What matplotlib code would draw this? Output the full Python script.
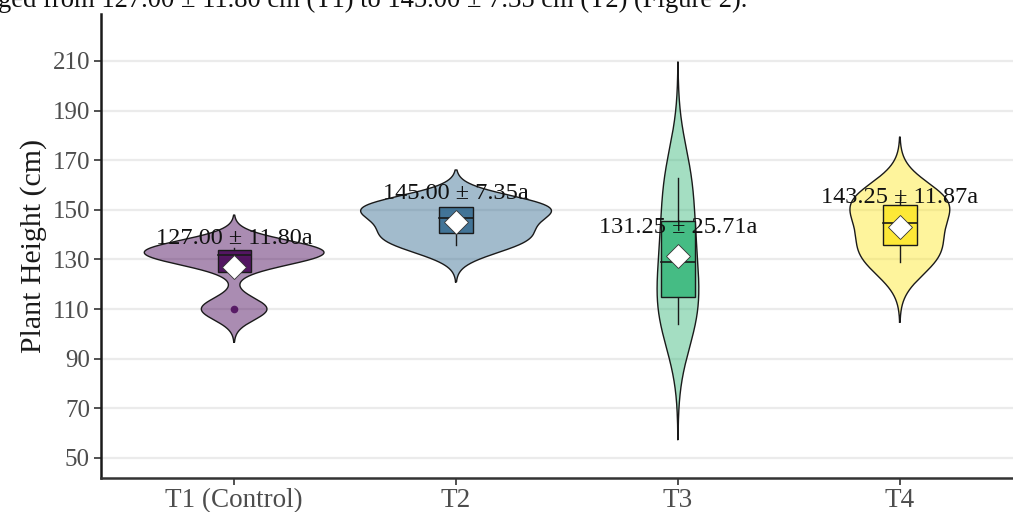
import numpy as np
import matplotlib
matplotlib.use("Agg")
import matplotlib.pyplot as plt

# Plant height (cm) per treatment, four replicates each
groups = ["T1 (Control)", "T2", "T3", "T4"]
t1_height = [110.0, 130.0, 133.5, 134.5]
t2_height = [136.0, 142.0, 151.0, 151.0]
t3_height = [104.0, 118.5, 139.5, 163.0]
t4_height = [129.0, 138.2, 150.8, 155.0]
heights = [t1_height, t2_height, t3_height, t4_height]

# Summary statistics printed above each treatment
means = [127.00, 145.00, 131.25, 143.25]
sds = [11.80, 7.35, 25.71, 11.87]
letters = ["a", "a", "a", "a"]

y_ticks = [50, 70, 90, 110, 130, 150, 170, 190, 210]

# styling
colors = ["#440154", "#31688E", "#35B779", "#FDE725"]
violin_half_width = [0.405, 0.43, 0.094, 0.225]

SERIF = ["Liberation Serif", "DejaVu Serif"]
plt.rcParams["font.family"] = SERIF


def bw_nrd0(x):
    x = np.asarray(x)
    sd = np.std(x, ddof=1)
    q1, q3 = np.percentile(x, [25, 75])
    lo = min(sd, (q3 - q1) / 1.34)
    if lo == 0:
        lo = sd
    return 0.9 * lo * len(x) ** -0.2


def kde(x, n=512):
    x = np.asarray(x)
    bw = bw_nrd0(x)
    grid = np.linspace(x.min() - 3 * bw, x.max() + 3 * bw, n)
    z = (grid[:, None] - x[None, :]) / bw
    dens = np.exp(-0.5 * z ** 2).sum(axis=1) / (len(x) * bw * np.sqrt(2 * np.pi))
    return grid, dens


fig = plt.figure(figsize=(10.13, 5.12), dpi=100)
ax = fig.add_axes([101 / 1013, 34 / 512, 932 / 1013, 464 / 512])

# grid
for t in y_ticks:
    ax.axhline(t, color="#ebebeb", lw=1.6, zorder=0)

# violins
for i, h in enumerate(heights):
    grid, dens = kde(h)
    pos = i + 1
    half = violin_half_width[i] * dens / dens.max()
    ax.fill_betweenx(grid, pos - half, pos + half, facecolor=colors[i], alpha=0.45,
                     edgecolor="none", zorder=2)
    ax.plot(np.r_[pos - half, (pos + half)[::-1], pos - half[0]],
            np.r_[grid, grid[::-1], grid[0]], color="#1a1a1a", lw=1.0, zorder=3)

# boxplots
box_w = 0.15
for i, h in enumerate(heights):
    pos = i + 1
    h = np.asarray(h)
    q1, med, q3 = np.percentile(h, [25, 50, 75])
    iqr = q3 - q1
    lo_f, hi_f = q1 - 1.5 * iqr, q3 + 1.5 * iqr
    inside = h[(h >= lo_f) & (h <= hi_f)]
    outliers = h[(h < lo_f) | (h > hi_f)]
    ax.plot([pos, pos], [q3, inside.max()], color="#1a1a1a", lw=1.0, zorder=4)
    ax.plot([pos, pos], [q1, inside.min()], color="#1a1a1a", lw=1.0, zorder=4)
    ax.add_patch(plt.Rectangle((pos - box_w / 2, q1), box_w, iqr, facecolor=colors[i],
                               alpha=0.85, edgecolor="none", zorder=4))
    ax.add_patch(plt.Rectangle((pos - box_w / 2, q1), box_w, iqr, facecolor="none",
                               edgecolor="#1a1a1a", lw=1.0, zorder=4))
    ax.plot([pos - box_w / 2, pos + box_w / 2], [med, med], color="#1a1a1a", lw=1.2, zorder=4)
    if len(outliers):
        ax.plot([pos] * len(outliers), outliers, "o", ms=5.5, color=colors[i],
                alpha=0.8, mec="none", zorder=5)

# means with their labels
for i, m in enumerate(means):
    ax.plot(i + 1, m, "D", ms=12, mfc="white", mec="#333333", mew=0.6, zorder=6)
    ax.text(i + 1, m + 11.5, f"{m:.2f} \u00b1 {sds[i]:.2f}{letters[i]}",
            ha="center", va="center", fontsize=17.5, color="#111111", zorder=7)

ax.set_xlim(0.4, 4.6)
ax.set_ylim(41.9, 228.9)
ax.set_xticks(range(1, 5))
ax.set_xticklabels(groups, fontsize=19.5)
ax.set_yticks(y_ticks)
ax.set_yticklabels([str(t) for t in y_ticks], fontsize=18)
ax.tick_params(axis="both", length=5, width=1.2, color="#333333",
               labelcolor="#4d4d4d", pad=3)
ax.tick_params(axis="x", pad=2)
ax.set_ylabel("Plant Height (cm)", fontsize=21.5, color="#1a1a1a", labelpad=4)
for s in ["top", "right"]:
    ax.spines[s].set_visible(False)
ax.spines["left"].set_linewidth(1.8)
ax.spines["left"].set_color("#1a1a1a")
ax.spines["bottom"].set_linewidth(1.8)
ax.spines["bottom"].set_color("#333333")
ax.set_facecolor("white")

# running text of the surrounding paragraph, cut at the top edge
fig.text(-2 / 1013, 1 - 7 / 512,
         "ged from 127.00 \u00b1 11.80 cm (T1) to 145.00 \u00b1 7.35 cm (T2) (Figure 2).",
         ha="left", va="baseline", fontsize=19.2, color="#111111")

fig.savefig("out.png", dpi=100)
